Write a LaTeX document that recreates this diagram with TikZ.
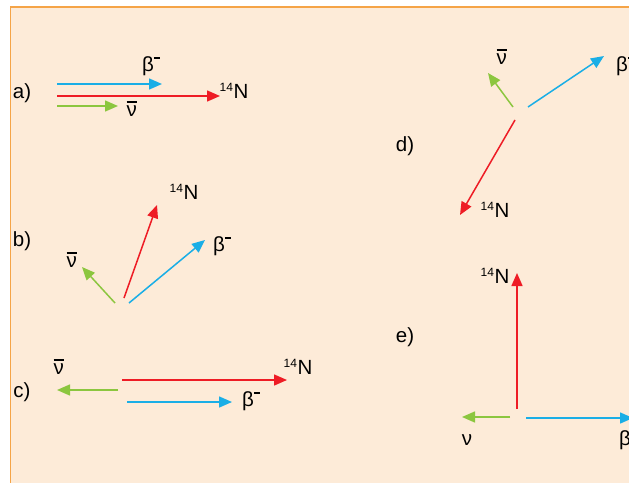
\documentclass[tikz,border=0pt]{standalone}
\usepackage{fontspec}
\setmainfont{Liberation Sans}
\usetikzlibrary{arrows.meta}
\definecolor{bgpeach}{HTML}{FDEBD8}
\definecolor{frameorange}{HTML}{F5A447}
\definecolor{betablue}{HTML}{1AAEE6}
\definecolor{nred}{HTML}{EE1C25}
\definecolor{nugreen}{HTML}{8CC63F}
\newcommand\nubarsym{\leavevmode\vbox{\hrule height 1.4pt width 0.52em\kern 3pt\hbox{ν}}}
\newcommand\nitro{\textsuperscript{\fontsize{12}{13}\selectfont 14}N}
\newcommand\betam{β\raisebox{0.6em}{\rule{0.3em}{1.6pt}}}
\begin{document}
\begin{tikzpicture}[x=1pt,y=-1pt,
  vec/.style={line width=1.5pt,-{Triangle[length=13pt,width=11pt]}},
  lbl/.style={inner sep=0pt,font=\fontsize{20.5}{22}\selectfont},
  blue vec/.style={vec,betablue},
  red vec/.style={vec,nred},
  green vec/.style={vec,nugreen}]
\useasboundingbox (0,0) rectangle (629,482);
\clip (0,0) rectangle (629,482);
\fill[white] (0,0) rectangle (629,482);
\fill[bgpeach] (10.5,7) rectangle (640,490);
\draw[frameorange,line width=1.3pt] (10.5,490) -- (10.5,7) -- (640,7);

% a)
\node[lbl] (la) at (22,93) {a)};
\coordinate (a-b0) at (57,84);  \coordinate (a-b1) at (162,84);
\coordinate (a-r0) at (57,96);  \coordinate (a-r1) at (220,96);
\coordinate (a-g0) at (57,106); \coordinate (a-g1) at (118,106);
\draw[blue vec] (a-b0) -- (a-b1);
\draw[red vec] (a-r0) -- (a-r1);
\draw[green vec] (a-g0) -- (a-g1);
\node[lbl] (a-beta) at (151,66) {\betam};
\node[lbl] (a-n) at (234,91) {\nitro};
\node[lbl] (a-nu) at (132,109) {\nubarsym};

% b)
\node[lbl] (lb) at (22,241) {b)};
\coordinate (b-g0) at (115,303); \coordinate (b-g1) at (82,267);
\coordinate (b-r0) at (124,298); \coordinate (b-r1) at (157,205);
\coordinate (b-b0) at (129,303); \coordinate (b-b1) at (205,240);
\draw[green vec] (b-g0) -- (b-g1);
\draw[red vec] (b-r0) -- (b-r1);
\draw[blue vec] (b-b0) -- (b-b1);
\node[lbl] (b-nu) at (72,260) {\nubarsym};
\node[lbl] (b-n) at (184,192) {\nitro};
\node[lbl] (b-beta) at (222,246) {\betam};

% c)
\node[lbl] (lc) at (22,392) {c)};
\coordinate (c-g0) at (118,390); \coordinate (c-g1) at (57,390);
\coordinate (c-r0) at (122,380); \coordinate (c-r1) at (287,380);
\coordinate (c-b0) at (127,402); \coordinate (c-b1) at (232,402);
\draw[green vec] (c-g0) -- (c-g1);
\draw[red vec] (c-r0) -- (c-r1);
\draw[blue vec] (c-b0) -- (c-b1);
\node[lbl] (c-nu) at (59,367) {\nubarsym};
\node[lbl] (c-n) at (298,367) {\nitro};
\node[lbl] (c-beta) at (251,401) {\betam};

% d)
\node[lbl] (ld) at (405,146) {d)};
\coordinate (d-g0) at (513,107); \coordinate (d-g1) at (488,73);
\coordinate (d-b0) at (528,107); \coordinate (d-b1) at (604,56);
\coordinate (d-r0) at (515,120); \coordinate (d-r1) at (460,215);
\draw[green vec] (d-g0) -- (d-g1);
\draw[blue vec] (d-b0) -- (d-b1);
\draw[red vec] (d-r0) -- (d-r1);
\node[lbl] (d-nu) at (502,57) {\nubarsym};
\node[lbl] (d-beta) at (625,66) {\betam};
\node[lbl] (d-n) at (495,210) {\nitro};

% e)
\node[lbl] (le) at (405,337) {e)};
\coordinate (e-r0) at (517,409); \coordinate (e-r1) at (517,273);
\coordinate (e-g0) at (510,417); \coordinate (e-g1) at (462,417);
\coordinate (e-b0) at (526,418); \coordinate (e-b1) at (633,418);
\draw[red vec] (e-r0) -- (e-r1);
\draw[green vec] (e-g0) -- (e-g1);
\draw[blue vec] (e-b0) -- (e-b1);
\node[lbl] (e-n) at (495,276) {\nitro};
\node[lbl] (e-nu) at (467,440) {ν};
\node[lbl,anchor=west] (e-beta) at (619,440) {β};
\end{tikzpicture}
\end{document}
